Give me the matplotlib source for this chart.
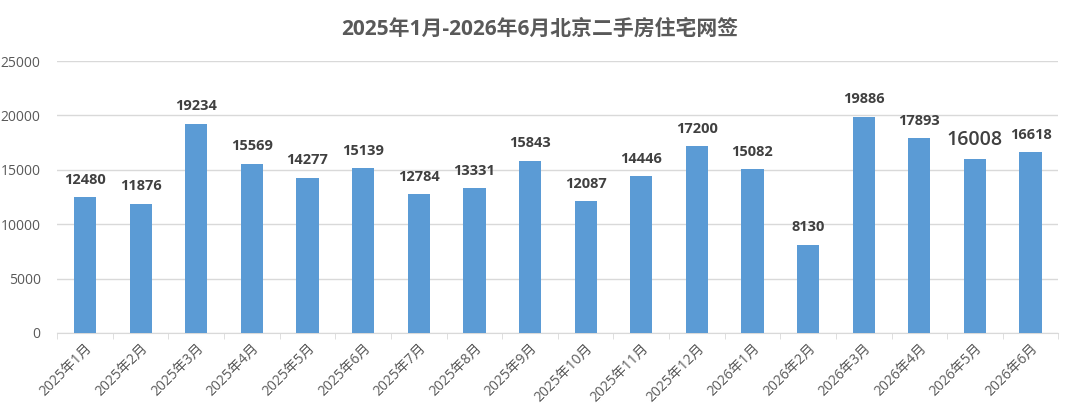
import numpy as np
import matplotlib.pyplot as plt

plt.rcParams['font.family'] = ['Open Sans', 'Noto Sans CJK SC', 'DejaVu Sans']

# data
months = ['2025年1月', '2025年2月', '2025年3月', '2025年4月', '2025年5月', '2025年6月',
          '2025年7月', '2025年8月', '2025年9月', '2025年10月', '2025年11月', '2025年12月',
          '2026年1月', '2026年2月', '2026年3月', '2026年4月', '2026年5月', '2026年6月']
deals = [12480, 11876, 19234, 15569, 14277, 15139, 12784, 13331, 15843,
         12087, 14446, 17200, 15082, 8130, 19886, 17893, 16008, 16618]

fig = plt.figure(figsize=(10.8, 4.13), dpi=100)
ax = fig.add_axes([0.053, 0.194, 0.927, 0.658])

x = np.arange(len(months))
ax.bar(x, deals, width=0.4, color='#5B9BD5', zorder=3)

# value labels (May 2026 is drawn bigger in the original)
for i, v in enumerate(deals):
    if months[i] == '2026年5月':
        ax.text(i, v + 850, str(v), ha='center', va='bottom', fontsize=14,
                fontweight='semibold', color='#404040')
    else:
        ax.text(i, v + 950, str(v), ha='center', va='bottom', fontsize=10.5,
                fontweight='bold', color='#404040')

ax.set_xlim(-0.5, len(months) - 0.5)
ax.set_ylim(0, 25000)
ax.set_yticks(np.arange(0, 25001, 5000))
ax.yaxis.grid(True, color='#d9d9d9', linewidth=1, zorder=0)
ax.tick_params(axis='y', length=0, labelsize=10, labelcolor='#595959', pad=12)

ax.set_xticks(x)
ax.set_xticklabels(months, rotation=45, ha='right', rotation_mode='anchor',
                   fontsize=10, color='#595959')
ax.set_xticks(np.arange(-0.5, len(months)), minor=True)
ax.tick_params(axis='x', which='major', length=0, pad=6)
ax.tick_params(axis='x', which='minor', length=4, color='#d9d9d9')

for s in ['top', 'right', 'left']:
    ax.spines[s].set_visible(False)
ax.spines['bottom'].set_color('#d9d9d9')

fig.text(0.5, 0.915, '2025年1月-2026年6月北京二手房住宅网签', ha='center',
         fontsize=15, fontweight='bold', color='#595959')

fig.savefig('out.png', dpi=100)
